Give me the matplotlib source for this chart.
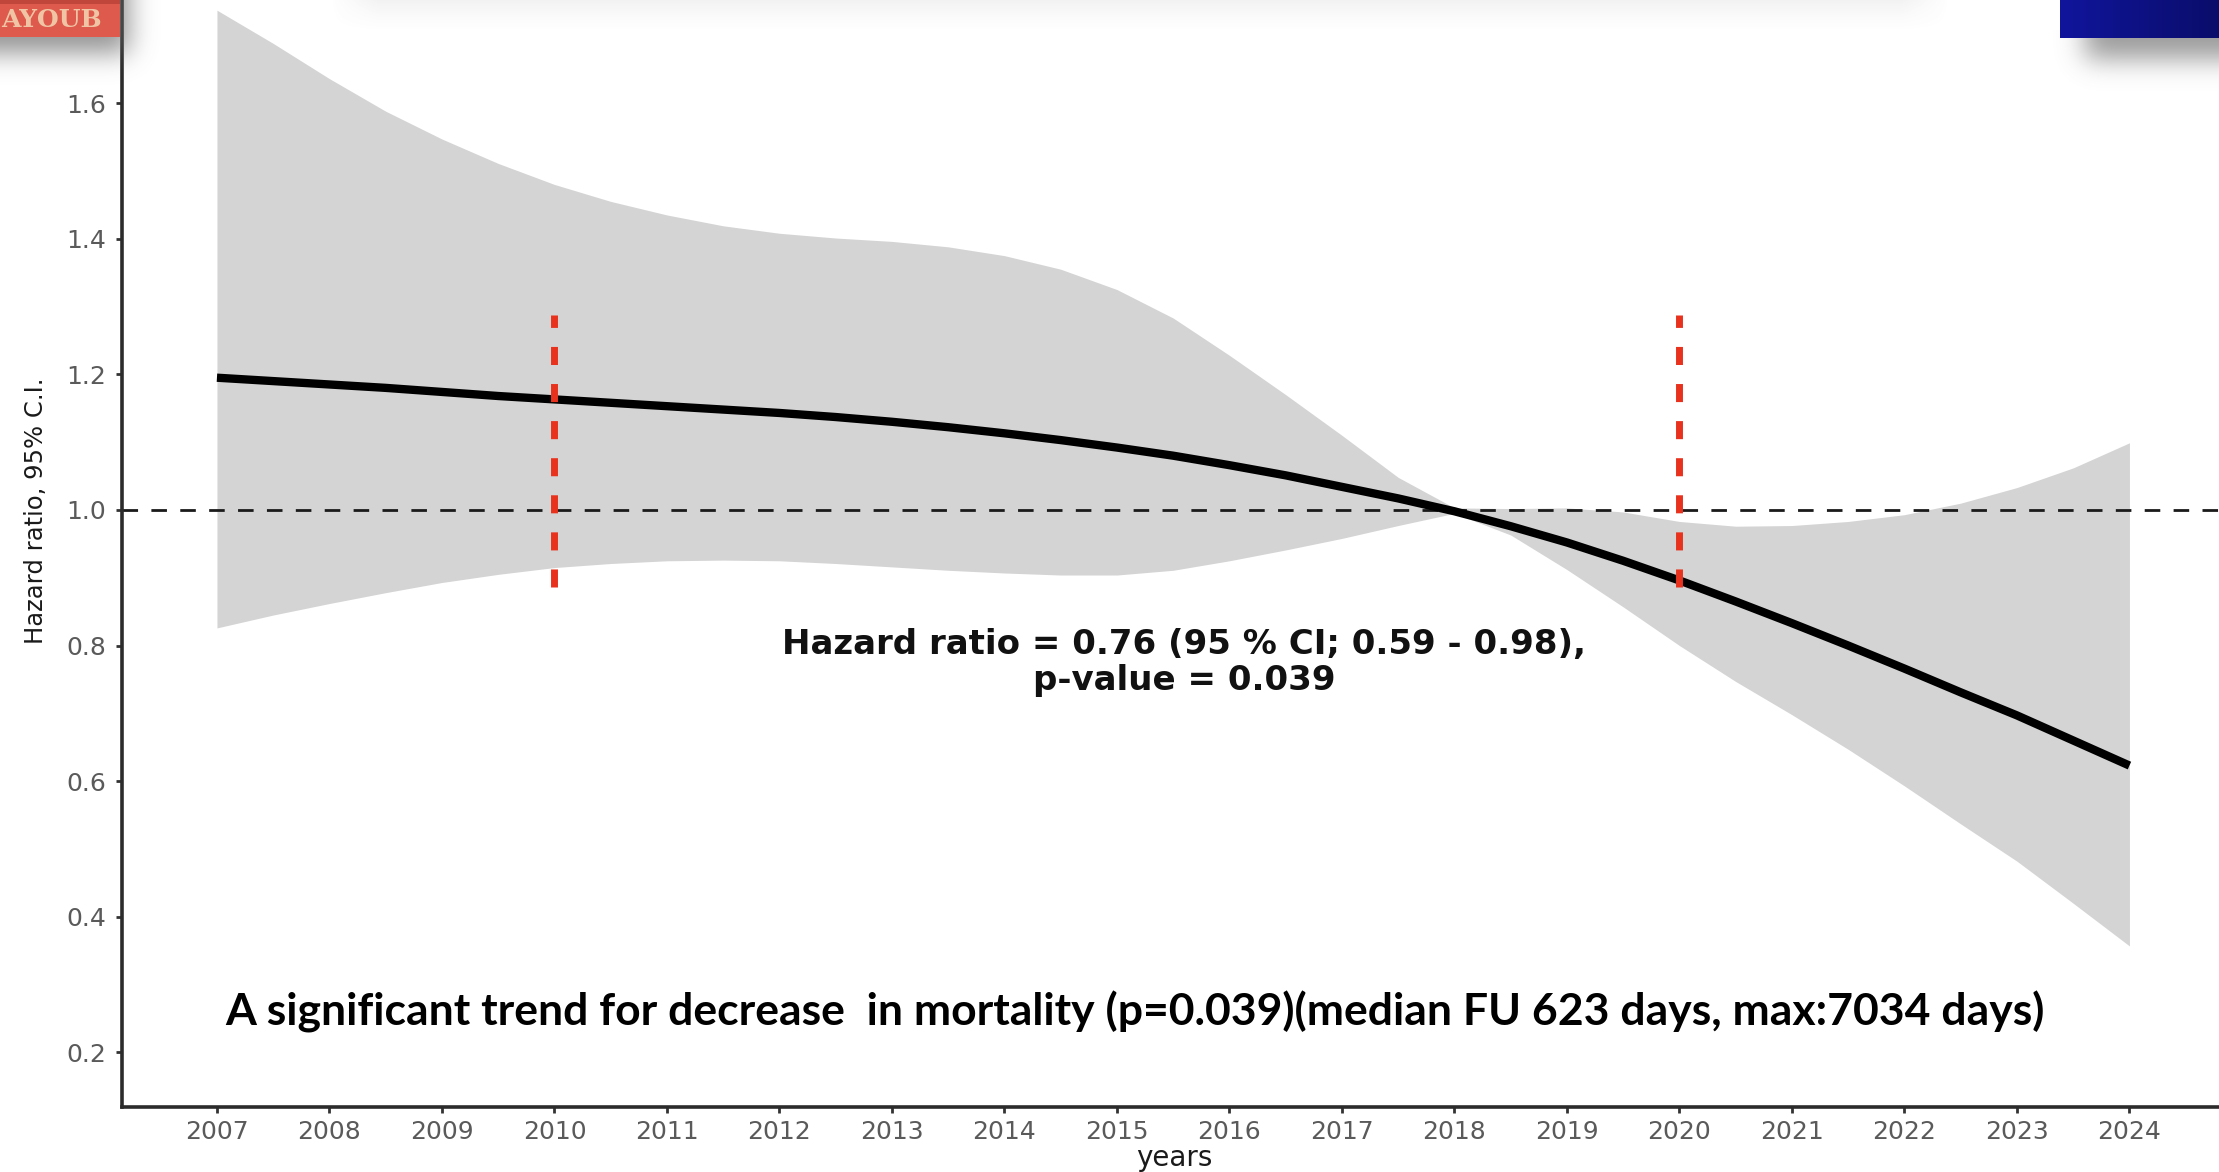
import numpy as np
import matplotlib
matplotlib.use("Agg")
import matplotlib.pyplot as plt
from matplotlib.patches import Rectangle

plt.rcParams["lines.scale_dashes"] = False
plt.rcParams["font.family"] = ["DejaVu Sans"]

# ---- data -----------------------------------------------------------------
years = [2007, 2007.5, 2008, 2008.5, 2009, 2009.5, 2010, 2010.5, 2011, 2011.5,
         2012, 2012.5, 2013, 2013.5, 2014, 2014.5, 2015, 2015.5, 2016, 2016.5,
         2017, 2017.5, 2018, 2018.5, 2019, 2019.5, 2020, 2020.5, 2021, 2021.5,
         2022, 2022.5, 2023, 2023.5, 2024]

hazard_ratio = [1.195, 1.190, 1.185, 1.180, 1.174, 1.168, 1.163, 1.158, 1.153, 1.148,
                1.143, 1.137, 1.130, 1.122, 1.113, 1.103, 1.092, 1.080, 1.066, 1.051,
                1.034, 1.017, 0.998, 0.976, 0.952, 0.925, 0.896, 0.865, 0.833, 0.800,
                0.766, 0.731, 0.697, 0.660, 0.623]

ci_upper = [1.737, 1.688, 1.636, 1.588, 1.547, 1.511, 1.480, 1.455, 1.435, 1.419,
            1.408, 1.401, 1.396, 1.388, 1.375, 1.355, 1.325, 1.283, 1.228, 1.170,
            1.110, 1.048, 1.003, 1.002, 1.003, 0.997, 0.983, 0.976, 0.977, 0.983,
            0.993, 1.010, 1.033, 1.062, 1.099]

ci_lower = [0.826, 0.845, 0.862, 0.878, 0.893, 0.905, 0.915, 0.921, 0.925, 0.926,
            0.925, 0.921, 0.916, 0.911, 0.907, 0.904, 0.904, 0.911, 0.925, 0.941,
            0.958, 0.977, 0.995, 0.963, 0.912, 0.857, 0.800, 0.747, 0.698, 0.647,
            0.593, 0.537, 0.482, 0.420, 0.357]

reference_hr = 1.0
marker_years = [2010, 2020]
marker_low, marker_high = 0.886, 1.288

x_ticks = list(range(2007, 2025))
y_ticks = [0.2, 0.4, 0.6, 0.8, 1.0, 1.2, 1.4, 1.6]
y_tick_labels = ["0.2", "0.4", "0.6", "0.8", "1.0", "1.2", "1.4", "1.6"]

stats_text = "Hazard ratio = 0.76 (95 % CI; 0.59 - 0.98),\np-value = 0.039"
summary_text = ("A significant trend for decrease  in mortality (p=0.039)"
                "(median FU 623 days, max:7034 days)")

# ---- figure ---------------------------------------------------------------
W, H = 2219, 1172
fig = plt.figure(figsize=(W / 100, H / 100), dpi=100)
fig.patch.set_facecolor("white")


def px_box(x0, y0, x1, y1):
    """Figure-fraction rectangle from pixel box measured from the top-left."""
    return [x0 / W, 1 - y1 / H, (x1 - x0) / W, (y1 - y0) / H]


ax = fig.add_axes(px_box(122, 0, W, 1107))
ax.set_xlim(2006.156, 2024.796)
ax.set_ylim(0.1195, 1.752)

ax.fill_between(years, ci_lower, ci_upper, color="#d4d4d4", lw=0, zorder=1)
ax.axhline(reference_hr, color="#1a1a1a", lw=2.0, dashes=(11.2, 9.6), zorder=2)
ax.plot(years, hazard_ratio, color="black", lw=6, solid_capstyle="butt", zorder=3)
ax.vlines(marker_years, marker_low, marker_high, colors="#e8321e", lw=5,
          linestyles=[(0, (13, 13.7))], zorder=4)

ax.text(2015.6, 0.775, stats_text, ha="center", va="center", fontsize=24.5,
        fontweight="bold", color="#111111", linespacing=1.12, zorder=5)

for side in ("top", "right"):
    ax.spines[side].set_visible(False)
for side in ("left", "bottom"):
    ax.spines[side].set_linewidth(2.6)
    ax.spines[side].set_color("#2b2b2b")

ax.set_xticks(x_ticks)
ax.set_xticklabels([str(y) for y in x_ticks])
ax.set_yticks(y_ticks)
ax.set_yticklabels(y_tick_labels)
ax.tick_params(axis="both", length=4.5, width=2, color="#333333",
               labelcolor="#5a5a5a", labelsize=18)
ax.tick_params(axis="y", pad=7)
ax.tick_params(axis="x", pad=5)

ax.set_ylabel("Hazard ratio, 95% C.I.", fontsize=17.5, color="#1a1a1a")
ax.yaxis.set_label_coords(-0.0352, 0.539)
ax.set_xlabel("years", fontsize=20, color="#1a1a1a")
ax.xaxis.set_label_coords(0.502, -0.033)

fig.text(1135 / W, 1 - 1012 / H, summary_text, ha="center", va="center",
         fontsize=32, fontweight="bold", family="Lato", color="black")

# ---- slide decorations ----------------------------------------------------
ov = fig.add_axes([0, 0, 1, 1], zorder=10)
ov.set_xlim(0, W)
ov.set_ylim(H, 0)
ov.axis("off")
ov.patch.set_alpha(0)


def blur(a, sigma):
    r = int(3 * sigma)
    k = np.exp(-0.5 * (np.arange(-r, r + 1) / sigma) ** 2)
    k /= k.sum()
    a = np.apply_along_axis(lambda v: np.convolve(v, k, mode="same"), 0, a)
    a = np.apply_along_axis(lambda v: np.convolve(v, k, mode="same"), 1, a)
    return a


def soft_shadow(x0, x1, y0, y1, rx0, rx1, ry0, ry1, sigma, strength, gray):
    """Blurred shadow of rectangle (rx0..rx1, ry0..ry1) drawn over box (x0..x1, y0..y1)."""
    pad = int(3 * sigma)
    xs = np.arange(x0 - pad, x1 + pad)
    ys = np.arange(y0 - pad, y1 + pad)
    m = ((xs[None, :] >= rx0) & (xs[None, :] <= rx1) &
         (ys[:, None] >= ry0) & (ys[:, None] <= ry1)).astype(float)
    m = blur(m, sigma)[pad:-pad, pad:-pad]
    img = np.zeros(m.shape + (4,))
    img[..., :3] = gray
    img[..., 3] = np.clip(m * strength, 0, 1)
    ov.imshow(img, extent=(x0, x1, y1, y0), interpolation="bilinear", zorder=1)


# faint blurred strip along the top edge
strip_w, strip_h = 1620, 34
sx = np.linspace(0, 1, strip_w)
sy = np.linspace(0, 1, strip_h)
edge = np.clip(np.minimum(sx / 0.03, (1 - sx) / 0.03), 0, 1)
alpha = (0.09 * (1 - sy) ** 1.5)[:, None] * edge[None, :]
strip = np.zeros((strip_h, strip_w, 4))
strip[..., :3] = 0.45
strip[..., 3] = alpha
ov.imshow(strip, extent=(330, 330 + strip_w, strip_h, 0), interpolation="bilinear", zorder=0)

# top-left stamp with drop shadow
soft_shadow(0, 210, 0, 120, -80, 128, -80, 52, 13, 0.7, 0.40)
stamp = Rectangle((0, -2), 120, 39, facecolor="#dd5a4c", edgecolor="none", zorder=3)
ov.add_patch(stamp)
ov.add_patch(Rectangle((0, 0), 120, 4, facecolor="#c0453a", edgecolor="none", zorder=4))
t = ov.text(1, 20, "AYOUB", ha="left", va="center", fontsize=18, fontweight="bold",
            family="DejaVu Serif", color="#f3d2b0", alpha=0.9, zorder=4)
t.set_clip_path(stamp)

# top-right blue bar with shadow below
soft_shadow(2040, W, 30, 115, 2085, 2400, -60, 58, 13, 0.75, 0.48)
grad = np.linspace(0, 1, 200)[None, :, None]
left_c = np.array([0x10, 0x15, 0x9c]) / 255
right_c = np.array([0x0a, 0x0d, 0x6a]) / 255
bar = left_c * (1 - grad) + right_c * grad
bar = np.repeat(bar, 4, axis=0)
ov.imshow(bar, extent=(2060, W, 38, 0), interpolation="bilinear", zorder=3)

fig.savefig("out.png", dpi=100, facecolor="white")
